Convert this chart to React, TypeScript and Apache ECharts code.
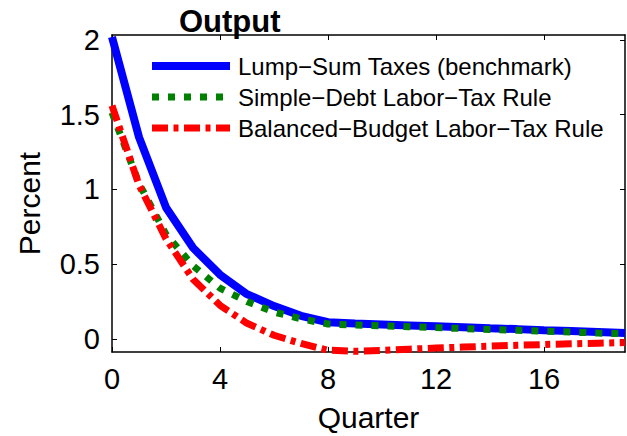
import React, { useEffect, useRef } from "react";
import * as echarts from "echarts";

const quarters = [0, 1, 2, 3, 4, 5, 6, 7, 8, 9, 10, 11, 12, 13, 14, 15, 16, 17, 18, 19];
const lumpSum = [2.02, 1.35, 0.88, 0.61, 0.43, 0.3, 0.22, 0.155, 0.112, 0.103, 0.097, 0.091, 0.085, 0.079, 0.072, 0.066, 0.059, 0.053, 0.047, 0.04];
const simpleDebt = [1.515, 1.04, 0.7, 0.49, 0.34, 0.25, 0.18, 0.135, 0.1, 0.094, 0.088, 0.082, 0.076, 0.07, 0.064, 0.058, 0.052, 0.046, 0.04, 0.035];
const balancedBudget = [1.56, 1.03, 0.67, 0.4, 0.225, 0.105, 0.025, -0.03, -0.075, -0.082, -0.076, -0.068, -0.061, -0.054, -0.048, -0.042, -0.037, -0.032, -0.028, -0.024];
const seriesNames = [
  "Lump\u2212Sum Taxes (benchmark)",
  "Simple\u2212Debt Labor\u2212Tax Rule",
  "Balanced\u2212Budget Labor\u2212Tax Rule",
];
const xTicks = [0, 4, 8, 12, 16];
const yTicks = [0, 0.5, 1, 1.5, 2];

const FONT = "Liberation Sans, Arial, Helvetica, sans-serif";

export default function App() {
  const ref = useRef<HTMLDivElement>(null);
  useEffect(() => {
    if (!ref.current) return;
    const chart = echarts.init(ref.current, null, { renderer: "svg" });
    const pairs = (ys: number[]) => quarters.map((q, i) => [q, ys[i]]);
    const axisCommon = {
      min: 0,
      max: 19,
      axisLine: { show: true, onZero: false, lineStyle: { color: "#000", width: 1.5 } },
      splitLine: { show: false },
    };
    const yCommon = {
      min: -0.087,
      max: 2.033,
      axisLine: { show: true, onZero: false, lineStyle: { color: "#000", width: 1.5 } },
      splitLine: { show: false },
    };
    chart.setOption({
      animation: false,
      backgroundColor: "#fff",
      title: {
        text: "Output",
        left: 179,
        top: 6,
        padding: 0,
        textStyle: { fontFamily: FONT, fontWeight: "bold", fontSize: 31, color: "#000" },
      },
      grid: { left: 112, top: 35, right: 2, bottom: 84, containLabel: false, outerBoundsMode: "none" },
      legend: {
        orient: "vertical",
        left: 148,
        top: 51,
        padding: 0,
        itemWidth: 78,
        itemHeight: 10,
        itemGap: 1,
        data: seriesNames,
        itemStyle: { opacity: 0, borderWidth: 0 },
        lineStyle: { width: "inherit", type: "inherit" },
        textStyle: { fontFamily: FONT, fontSize: 24, color: "#000", lineHeight: 30, padding: [0, 0, 0, 3] },
      },
      xAxis: [
        {
          ...axisCommon,
          type: "value",
          position: "bottom",
          name: "Quarter",
          nameLocation: "middle",
          nameGap: 50,
          nameTextStyle: { fontFamily: FONT, fontSize: 30, color: "#000" },
          axisTick: { show: true, inside: true, length: 5, customValues: xTicks, lineStyle: { color: "#000" } },
          axisLabel: { show: true, margin: 12, customValues: xTicks, fontFamily: FONT, fontSize: 29, color: "#000" },
        },
        {
          ...axisCommon,
          type: "value",
          position: "top",
          axisTick: { show: true, inside: true, length: 5, customValues: xTicks, lineStyle: { color: "#000" } },
          axisLabel: { show: false },
        },
      ],
      yAxis: [
        {
          ...yCommon,
          type: "value",
          position: "left",
          name: "Percent",
          nameLocation: "middle",
          nameGap: 68,
          nameTextStyle: { fontFamily: FONT, fontSize: 30, color: "#000", padding: [0, 20, 0, 0] },
          axisTick: { show: true, inside: true, length: 5, customValues: yTicks, lineStyle: { color: "#000" } },
          axisLabel: { show: true, margin: 12, customValues: yTicks, fontFamily: FONT, fontSize: 29, color: "#000" },
        },
        {
          ...yCommon,
          type: "value",
          position: "right",
          axisTick: { show: true, inside: true, length: 5, customValues: yTicks, lineStyle: { color: "#000" } },
          axisLabel: { show: false },
        },
      ],
      series: [
        {
          name: seriesNames[0],
          type: "line",
          data: pairs(lumpSum),
          symbol: "none",
          color: "#0000ff",
          lineStyle: { color: "#0000ff", width: 8, type: "solid" },
          z: 2,
        },
        {
          name: seriesNames[1],
          type: "line",
          data: pairs(simpleDebt),
          symbol: "none",
          color: "#008000",
          lineStyle: { color: "#008000", width: 7, type: [7, 9], cap: "butt" },
          z: 3,
        },
        {
          name: seriesNames[2],
          type: "line",
          data: pairs(balancedBudget),
          symbol: "none",
          color: "#ff0000",
          lineStyle: { color: "#ff0000", width: 7, type: [16, 5.5, 5, 5.5], cap: "butt" },
          z: 4,
        },
      ],
    });
    return () => chart.dispose();
  }, []);
  return (
    <div
      ref={ref}
      style={{ position: "absolute", left: 0, top: 0, width: 627, height: 436, background: "#fff" }}
    />
  );
}
